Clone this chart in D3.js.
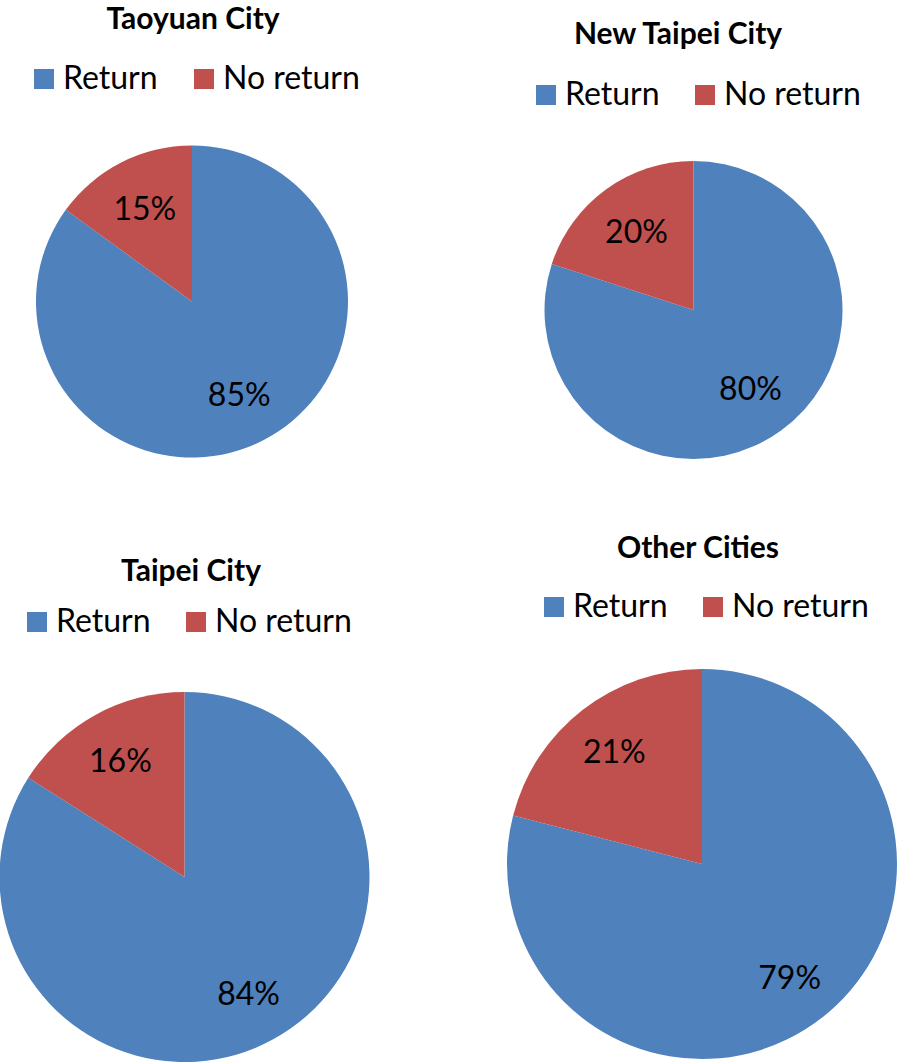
<!DOCTYPE html>
<html>
<head>
<meta charset="utf-8">
<script src="https://cdn.jsdelivr.net/npm/d3@7"></script>
<style>
    body { margin: 0; background: white; }
    text { font-family: Lato, "Open Sans", sans-serif; fill: black; }
</style>
</head>
<body>
<svg id="chart" width="898" height="1062"></svg>
<script>
/**
 * pies.js
 */

const cities = ["Taoyuan City", "New Taipei City", "Taipei City", "Other Cities"];
const categories = ["Return", "No return"];
const returnPct = [85, 80, 84, 79];
const noReturnPct = [15, 20, 16, 21];
const colors = ["#4F81BD", "#C0504D"];

// where each panel sits on the page
const panels = [
    { cx: 192, cy: 301.5, r: 156, titleX: 193, titleY: 29, legendY: 89, legendX: [34, 194] },
    { cx: 693.5, cy: 310, r: 149, titleX: 678, titleY: 44, legendY: 105, legendX: [536, 695] },
    { cx: 184.5, cy: 877, r: 185, titleX: 191, titleY: 581, legendY: 632, legendX: [27, 186] },
    { cx: 702, cy: 864, r: 195, titleX: 698, titleY: 558, legendY: 617, legendX: [544, 703] }
];

/**
 * Renders one pie with its title and legend
 * @param svg The svg selection to draw into
 * @param i Index of the city
 */
function cityPie(svg, i) {
    let p = panels[i];
    let values = [returnPct[i], noReturnPct[i]];

    let color = d3.scaleOrdinal().domain(categories).range(colors);

    let pie = d3.pie().sort(null).value(d => d.value);
    let arcs = pie(categories.map((c, k) => ({ name: c, value: values[k] })));

    let arc = d3.arc().innerRadius(0).outerRadius(p.r);
    // excel puts the labels a fixed distance in from the edge
    let labelArc = d3.arc().innerRadius(p.r - 52).outerRadius(p.r - 52);

    let g = svg.append("g")
        .attr("transform", `translate(${p.cx},${p.cy})`);

    g.selectAll("path")
        .data(arcs)
        .join("path")
        .attr("d", arc)
        .attr("fill", d => color(d.data.name));

    g.selectAll("text")
        .data(arcs)
        .join("text")
        .attr("transform", d => `translate(${labelArc.centroid(d)})`)
        .attr("text-anchor", "middle")
        .attr("dy", "0.36em")
        .attr("font-size", 32)
        .text(d => d.data.value + "%");

    // title
    svg.append("text")
        .text(cities[i])
        .attr("x", p.titleX)
        .attr("y", p.titleY)
        .attr("text-anchor", "middle")
        .attr("font-size", 30)
        .attr("font-weight", "bold");

    // legend
    categories.forEach((c, k) => {
        svg.append("rect")
            .attr("x", p.legendX[k])
            .attr("y", p.legendY - 20)
            .attr("width", 20)
            .attr("height", 20)
            .attr("fill", color(c));

        svg.append("text")
            .text(c)
            .attr("x", p.legendX[k] + 29)
            .attr("y", p.legendY)
            .attr("font-size", 32);
    });
}

let svg = d3.select("#chart");
cities.forEach((c, i) => cityPie(svg, i));
</script>
</body>
</html>
